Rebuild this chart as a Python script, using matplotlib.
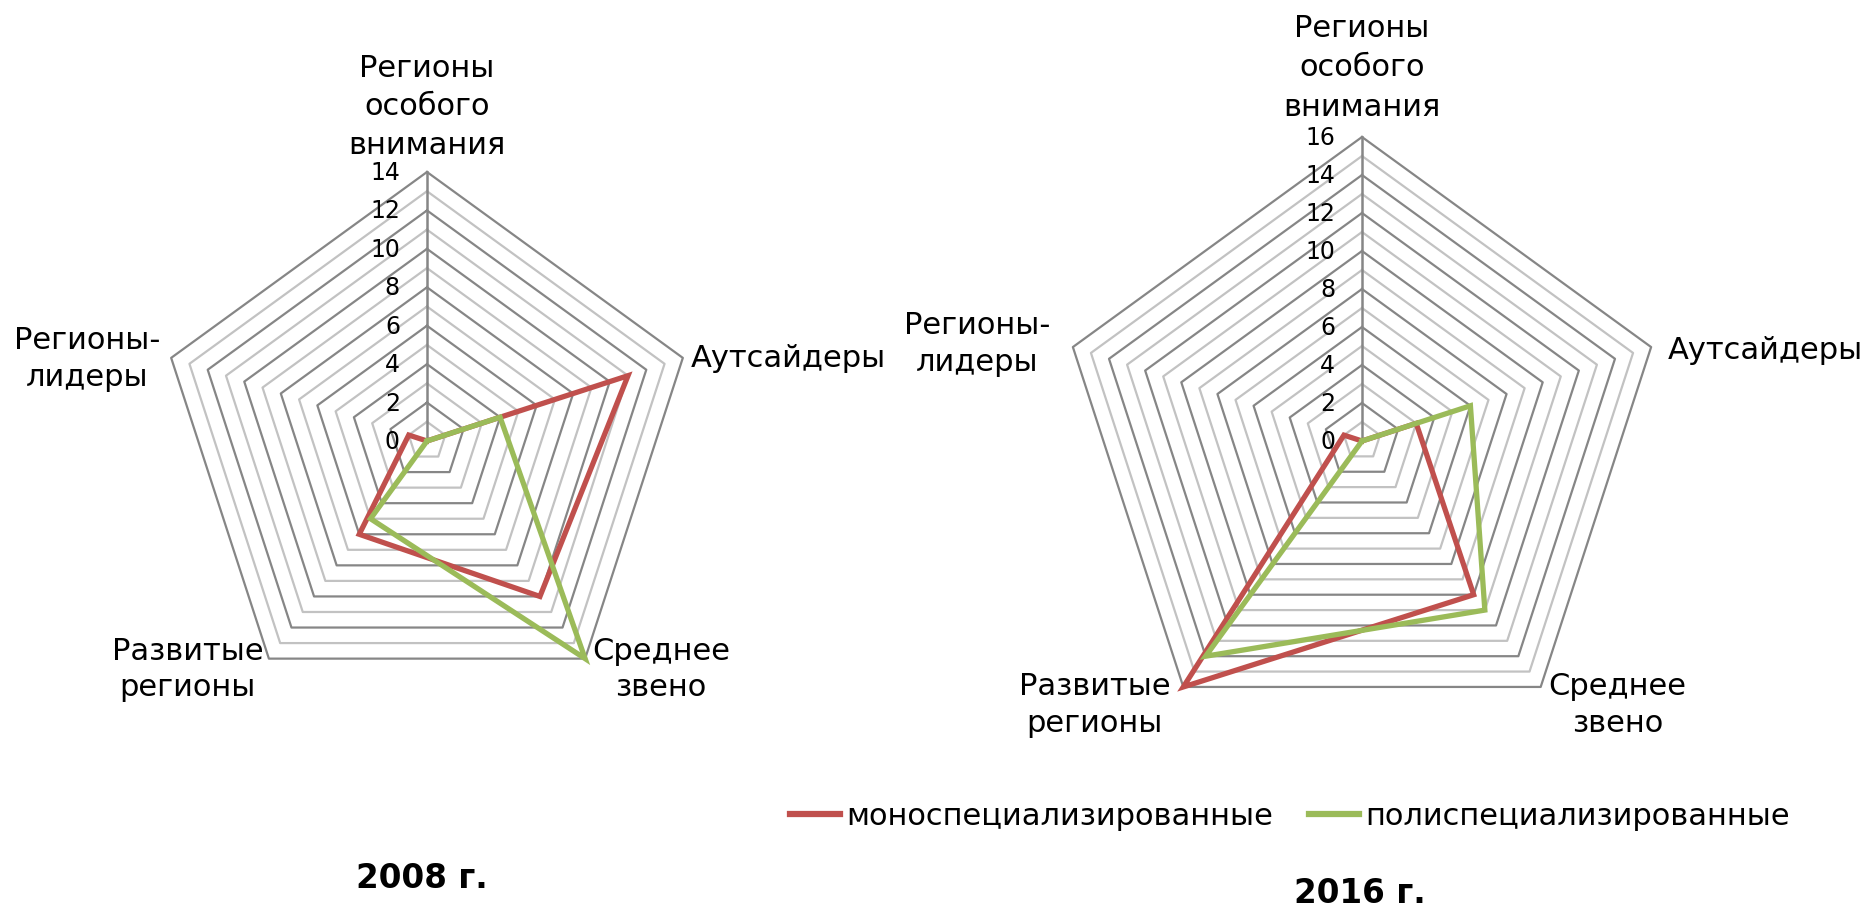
import numpy as np
import matplotlib
matplotlib.use("Agg")
import matplotlib.pyplot as plt
from matplotlib.lines import Line2D

plt.rcParams['font.family'] = ['DejaVu Sans']

categories = ["Регионы\nособого\nвнимания", "Аутсайдеры", "Среднее\nзвено",
              "Развитые\nрегионы", "Регионы-\nлидеры"]
series_names = ["моноспециализированные", "полиспециализированные"]

mono_2008 = [0, 11, 10, 6, 1]
poly_2008 = [0, 4, 14, 5, 0]
mono_2016 = [0, 3, 10, 16, 1]
poly_2016 = [0, 6, 11, 14, 0]

rmax_2008 = 14
rmax_2016 = 16
ticks_2008 = [0, 2, 4, 6, 8, 10, 12, 14]
ticks_2016 = [0, 2, 4, 6, 8, 10, 12, 14, 16]

RED = '#C0504D'
GREEN = '#9BBB59'
MAJOR = '#868686'
MINOR = '#c2c2c2'

W, H = 1862, 912
fig = plt.figure(figsize=(W / 100, H / 100), dpi=100)

theta = np.deg2rad(np.arange(5) * 72.0)
theta_c = np.append(theta, theta[0])

FS = 22


def make_ax(cx, cy, R):
    ax = fig.add_axes([(cx - R) / W, (H - cy - R) / H, 2 * R / W, 2 * R / H],
                      projection='polar')
    ax.set_theta_offset(np.pi / 2)
    ax.set_theta_direction(-1)
    ax.axis('off')
    return ax


def draw(ax, rmax, ticks, mono, poly, label_offsets):
    ax.set_ylim(0, rmax)
    for r in range(1, rmax + 1):
        col = MAJOR if r % 2 == 0 else MINOR
        ax.plot(theta_c, [r] * 6, color=col, lw=1.6, clip_on=False, zorder=1)
    ax.plot([0, 0], [0, rmax], color=MAJOR, lw=1.8, clip_on=False, zorder=2)
    for t in ticks:
        ax.annotate(str(t), xy=(0, t), xytext=(-27, 0), textcoords='offset pixels',
                    ha='right', va='center', fontsize=17, color='#000000')
    ax.plot(theta_c, mono + mono[:1], color=RED, lw=3.8, clip_on=False, zorder=4,
            solid_joinstyle='miter')
    ax.plot(theta_c, poly + poly[:1], color=GREEN, lw=3.8, clip_on=False, zorder=5,
            solid_joinstyle='miter')
    for i, lab in enumerate(categories):
        dx, dy, ha, va, ls = label_offsets[i]
        ax.annotate(lab, xy=(theta[i], rmax), xytext=(dx, dy), textcoords='offset pixels',
                    ha=ha, va=va, multialignment='center', fontsize=FS,
                    linespacing=ls, color='#000000')


ax1 = make_ax(427, 442, 269)
draw(ax1, rmax_2008, ticks_2008, mono_2008, poly_2008,
     [(0, 13, 'center', 'bottom', 1.42),
      (8, 0, 'left', 'center', 1.3),
      (76, -10, 'center', 'center', 1.33),
      (-81, -10, 'center', 'center', 1.33),
      (-84, 0, 'center', 'center', 1.36)])

ax2 = make_ax(1362, 442, 304)
draw(ax2, rmax_2016, ticks_2016, mono_2016, poly_2016,
     [(0, 16, 'center', 'bottom', 1.46),
      (17, -2, 'left', 'center', 1.3),
      (77, -17, 'center', 'center', 1.33),
      (-89, -17, 'center', 'center', 1.33),
      (-96, 4, 'center', 'center', 1.36)])

fig.text(422 / W, 1 - 879 / H, "2008 г.", ha='center', va='center',
         fontsize=23.5, fontweight='bold')
fig.text(1360 / W, 2 / H, "2016 г.", ha='center', va='bottom',
         fontsize=23.5, fontweight='bold')

handles = [Line2D([], [], color=RED, lw=4.5), Line2D([], [], color=GREEN, lw=4.5)]
fig.legend(handles, series_names, loc='center left',
           bbox_to_anchor=(790 / W, 1 - 817 / H), ncol=2, frameon=False,
           fontsize=FS, handlelength=1.65, handletextpad=0.2, columnspacing=1.15,
           borderaxespad=0, borderpad=0)

fig.savefig("out.png", dpi=100)
